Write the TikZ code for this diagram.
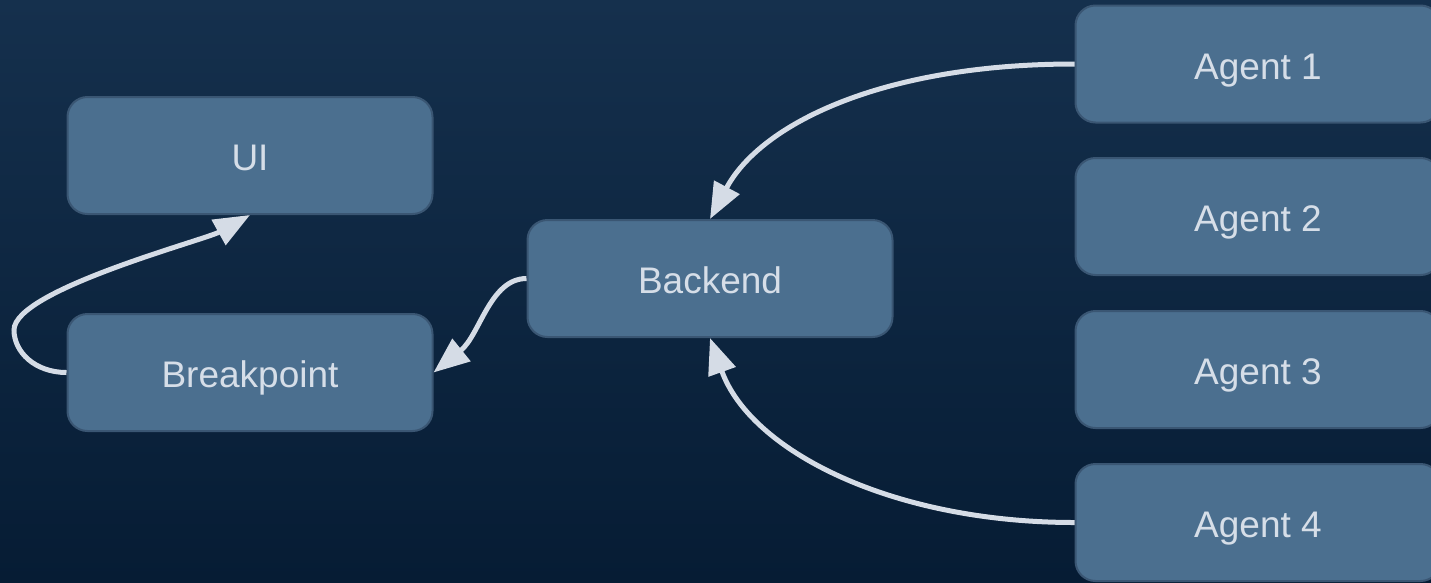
\documentclass[tikz,border=0pt]{standalone}
\usepackage{fontspec}
\setmainfont{Liberation Sans}
\usetikzlibrary{arrows.meta,positioning}
\definecolor{bgtop}{HTML}{15304D}
\definecolor{bgbot}{HTML}{061C34}
\definecolor{boxfill}{HTML}{4B6F8F}
\definecolor{boxline}{HTML}{3A5673}
\definecolor{ink}{HTML}{D6DEE8}
\definecolor{wire}{HTML}{D5DCE6}
\tikzset{
  block/.style={draw=boxline, line width=2pt, fill=boxfill, rounded corners=20pt,
    minimum width=365pt, minimum height=117pt, inner sep=0pt,
    text height=30pt, text depth=0pt,
    text=ink, font=\fontsize{37}{40}\selectfont},
  flow/.style={draw=wire, line width=5pt,
    -{Triangle[length=36pt, width=28pt, fill=wire]}},
}
\begin{document}
\begin{tikzpicture}[x=1pt, y=-1pt]
  % canvas with vertical gradient
  \shade[top color=bgtop, bottom color=bgbot] (0,0) rectangle (1431,582);
  \useasboundingbox (0,0) rectangle (1431,582);
  \clip (0,0) rectangle (1431,582);

  % blocks
  \node[block] (ui)      at (250,155.5) {UI};
  \node[block] (bp)      at (250,372.5) {Breakpoint};
  \node[block] (backend) at (710,278.5) {Backend};
  \node[block] (a1)      at (1258,64)   {Agent 1};
  \node[block] (a2)      at (1258,216.5) {Agent 2};
  \node[block] (a3)      at (1258,369.5) {Agent 3};
  \node[block] (a4)      at (1258,522.5) {Agent 4};

  % connectors
  \draw[flow] (a1.west) .. controls (880,64) and (760,125) .. (backend.north);
  \draw[flow] (a4.west) .. controls (890,522.5) and (750,450) .. (backend.south);
  \draw[flow] (backend.west) .. controls (490,278.5) and (480,335) .. (bp.east);
  \coordinate (loop) at (14,330);
  \draw[flow] (bp.west) .. controls (35,372.5) and (14,352) .. (loop)
                        .. controls (14,290) and (205,240) .. (ui.south);
\end{tikzpicture}
\end{document}
